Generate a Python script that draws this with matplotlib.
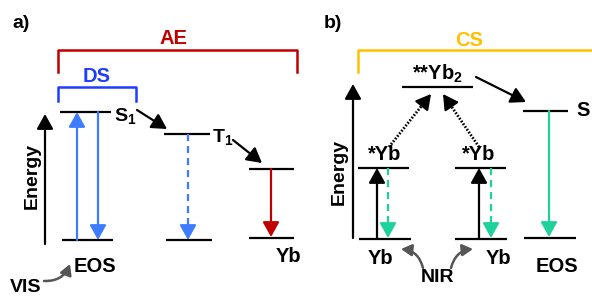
import matplotlib
matplotlib.use("Agg")
import matplotlib.pyplot as plt

plt.rcParams['font.family'] = ['Liberation Sans', 'DejaVu Sans']
plt.rcParams['mathtext.fontset'] = 'custom'
plt.rcParams['mathtext.rm'] = 'Liberation Sans:bold'
plt.rcParams['mathtext.bf'] = 'Liberation Sans:bold'
plt.rcParams['mathtext.default'] = 'bf'

# ---- content ----
panel_labels = ["a)", "b)"]
bracket_labels = ["AE", "DS", "CS"]
level_labels_a = ["S$_1$", "T$_1$"]
ground_labels_a = ["EOS", "Yb"]
level_labels_b = ["**Yb$_2$", "*Yb", "*Yb", "S"]
ground_labels_b = ["Yb", "Yb", "EOS"]
light_labels = ["VIS", "NIR"]
axis_label = "Energy"

# ---- colours ----
RED = '#c00000'
DSBLUE = '#1f3cff'
BLUE = '#3d7bff'
GOLD = '#ffc000'
GREEN = '#1fd19c'
GRAY = '#555555'

FS = 14.5

fig = plt.figure(figsize=(5.92, 2.96), dpi=100)
ax = fig.add_axes([0, 0, 1, 1])
ax.set_xlim(0, 592)
ax.set_ylim(296, 0)
ax.axis('off')

LW = 1.6


def level(x0, x1, y):
    ax.plot([x0, x1], [y, y], color='black', lw=LW, solid_capstyle='butt')


def arrow(tail, tip, color='black', lw=LW, hl=0.45, hw=0.25, ms=20):
    ax.annotate('', xy=tip, xytext=tail,
                arrowprops=dict(arrowstyle=f'-|>,head_length={hl},head_width={hw}',
                                color=color, lw=lw,
                                shrinkA=0, shrinkB=0, mutation_scale=ms))


def broken_arrow(tail, tip, color, dashes, lw=LW, head=12):
    (x0, y0), (x1, y1) = tail, tip
    d = ((x1 - x0) ** 2 + (y1 - y0) ** 2) ** 0.5
    ux, uy = (x1 - x0) / d, (y1 - y0) / d
    bx, by = x1 - ux * head, y1 - uy * head
    ax.plot([x0, bx + ux * 2], [y0, by + uy * 2], color=color, lw=lw,
            dashes=dashes)
    arrow((bx, by), (x1, y1), color=color)


def bracket(x0, x1, ytop, ybot, color):
    ax.plot([x0, x0, x1, x1], [ybot, ytop, ytop, ybot], color=color, lw=1.8,
            solid_joinstyle='round')


def txt(x, y, s, size=FS, color='black', **kw):
    ax.text(x, y, s, fontsize=size, color=color, fontweight='bold',
            ha='center', va='center', **kw)


def curved(tail, tip, rad):
    ax.annotate('', xy=tip, xytext=tail,
                arrowprops=dict(arrowstyle='-|>,head_length=0.45,head_width=0.25',
                                color=GRAY, lw=1.8, shrinkA=0, shrinkB=0,
                                mutation_scale=14,
                                connectionstyle=f'arc3,rad={rad}'))


# ---------------- panel a ----------------
txt(21, 24, panel_labels[0], size=14)
bracket(58, 297, 50, 72, RED)
txt(174, 39, bracket_labels[0], color=RED)
bracket(58, 136, 87, 101, DSBLUE)
txt(97, 76, bracket_labels[1], color=DSBLUE)

# energy axis
arrow((45, 244), (45, 114))
txt(32, 176, axis_label, size=14, rotation=90)

# levels
level(60, 111, 112)
txt(125, 116, level_labels_a[0], size=14)
level(62, 113, 240)
txt(95, 267, ground_labels_a[0])
level(164, 210, 134)
txt(223, 137, level_labels_a[1], size=14)
level(166, 212, 240)
level(249, 294, 169)
level(249, 294, 238)
txt(288, 257, ground_labels_a[1])

# transitions
arrow((77, 240), (77, 112), color=BLUE)
arrow((98, 112), (98, 240), color=BLUE)
arrow((137, 110), (167, 129))
broken_arrow((188, 134), (188, 240), BLUE, (3.2, 2.2))
arrow((233, 140), (262, 163))
arrow((271, 169), (271, 237), color=RED)

# VIS
txt(26, 287, light_labels[0], size=14)
curved((44, 281), (70, 264), 0.35)

# ---------------- panel b ----------------
txt(333, 24, panel_labels[1], size=14)
bracket(358, 640, 50, 72, GOLD)
txt(469, 41, bracket_labels[2], color=GOLD)

arrow((353, 238), (353, 84))
txt(339, 172, axis_label, size=14, rotation=90)

# levels
level(402, 473, 87)
txt(437, 74, level_labels_b[0])
level(358, 409, 168)
txt(385, 154, level_labels_b[1])
level(455, 506, 168)
txt(479, 154, level_labels_b[2])
level(523, 568, 111)
ax.text(576, 111, level_labels_b[3], fontsize=FS, fontweight='bold',
        ha='left', va='center')
level(359, 411, 239)
txt(381, 258, ground_labels_b[0])
level(455, 507, 239)
txt(499, 258, ground_labels_b[1])
level(524, 576, 238)
txt(557, 266, ground_labels_b[2])

# transitions
arrow((377, 239), (377, 168))
broken_arrow((388, 168), (388, 238), GREEN, (3.2, 2.2))
arrow((479, 239), (479, 168))
broken_arrow((491, 168), (491, 238), GREEN, (3.2, 2.2))
arrow((549, 111), (549, 237), color=GREEN)
arrow((476, 77), (526, 102))
broken_arrow((389, 147), (431, 94), 'black', (0.6, 0.6), lw=2.0)
broken_arrow((479, 147), (443, 94), 'black', (0.6, 0.6), lw=2.0)

# NIR
txt(437, 278, light_labels[1], size=14)
curved((423, 268), (401, 249), 0.35)
curved((451, 268), (473, 249), -0.35)

fig.savefig('out.png', dpi=100)
